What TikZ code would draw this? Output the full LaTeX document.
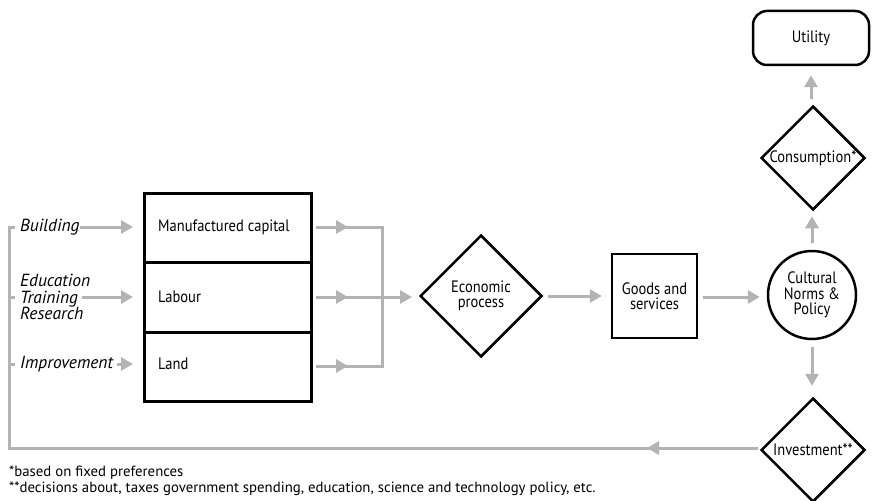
\documentclass[tikz,border=0pt]{standalone}
\usepackage{fontspec}
\setmainfont{PT Sans}[FakeStretch=0.88]
\newfontfamily\labfont{PT Sans}
\usetikzlibrary{shapes.geometric,arrows.meta}
\definecolor{agray}{HTML}{B3B3B3}
\tikzset{
  gline/.style={draw=agray,line width=3pt},
  garrow/.style={gline,-{Triangle[length=12pt,width=13pt]}},
  blk/.style={draw=black,line width=2.5pt},
  dia/.style={blk,diamond,aspect=1,inner sep=0pt,minimum size=#1},
  txt/.style={font=\fontsize{16.5}{17.5}\selectfont,align=center,inner sep=0pt},
  lab/.style={font=\labfont\itshape\fontsize{17.5}{16.5}\selectfont,align=left,inner sep=0pt,anchor=west},
  foot/.style={font=\labfont\fontsize{14.8}{16}\selectfont,inner sep=0pt,anchor=west},
}
\begin{document}
\begin{tikzpicture}[x=1pt,y=-1pt]
\useasboundingbox (0,0) rectangle (874,500);
% right column
\node[blk,rounded corners=14pt,minimum width=116pt,minimum height=54pt] (util) at (811,38) {};
\node[txt] at (util) {Utility};
\node[dia=104pt] (cons) at (813,158) {};
\node[txt] at (cons) {Consumption*};
\node[blk,circle,minimum size=88pt,inner sep=0pt] (cult) at (812,295) {};
\node[txt] at (cult) {Cultural\\[-2pt]Norms \&\\[-2pt]Policy};
\node[dia=104pt] (inv) at (813,450) {};
\node[txt] at (inv) {Investment**};
% middle
\node[dia=122pt] (econ) at (481,296) {};
\node[txt] at (econ) {Economic\\[-2pt]process};
\node[blk,minimum width=85pt,minimum height=84pt] (goods) at (654.5,296) {};
\node[txt] at (goods) {Goods and\\[-2pt]services};
% capital boxes
\node[blk,minimum width=167pt,minimum height=69pt,anchor=north west] (mc) at (143,192) {};
\node[blk,minimum width=167pt,minimum height=70pt,anchor=north west] (lab) at (143,261) {};
\node[blk,minimum width=167pt,minimum height=69pt,anchor=north west] (land) at (143,331) {};
\node[txt,anchor=west] at (158,227) {Manufactured capital};
\node[txt,anchor=west] at (158,297) {Labour};
\node[txt,anchor=west] at (158,364) {Land};
% left labels
\node[lab] (bld) at (20,227) {Building};
\node[lab] (edu) at (20,297) {Education\\Training\\Research};
\node[lab] (imp) at (20,364) {Improvement};
% coordinates
\coordinate (bA) at (80,227);  \coordinate (bB) at (133,227);
\coordinate (eA) at (82,297);  \coordinate (eB) at (133,297);
\coordinate (iA) at (117,364); \coordinate (iB) at (133,364);
\coordinate (o1) at (316,227); \coordinate (t1) at (348,227); \coordinate (j1) at (382,227);
\coordinate (o2) at (316,297); \coordinate (t2) at (348,297); \coordinate (j2) at (382,297);
\coordinate (o3) at (316,366); \coordinate (t3) at (348,366); \coordinate (j3) at (382,366);
\coordinate (eT) at (412,297);
\coordinate (fbT) at (647,448);
\coordinate (fbC) at (9,448);
\coordinate (fbU) at (9,227);
\coordinate (k2) at (9,297); \coordinate (k2e) at (15,297);
\coordinate (k3) at (9,364); \coordinate (k3e) at (15,364);
\coordinate (k1e) at (15,227);
\coordinate (fbS) at (758,448);
% feedback loop
\draw[gline] (fbS) -- (fbC) -- (fbU) -- (k1e);
\draw[garrow] (fbS) -- (fbT);
\draw[gline] (k2) -- (k2e);
\draw[gline] (k3) -- (k3e);
% inputs
\draw[garrow] (bA) -- (bB);
\draw[garrow] (eA) -- (eB);
\draw[garrow] (iA) -- (iB);
% outputs of boxes
\draw[gline] (o1) -- (j1) -- (j3) -- (o3);
\draw[gline] (o2) -- (j2);
\draw[garrow] (o1) -- (t1);
\draw[garrow] (o2) -- (t2);
\draw[garrow] (o3) -- (t3);
\draw[garrow] (j2) -- (eT);
% main flow
\draw[garrow,shorten <=5pt,shorten >=9pt] (econ.east) -- (goods.west);
\draw[garrow,shorten <=5pt,shorten >=7pt] (goods.east |- 0,297) -- (cult.west |- 0,297);
\draw[garrow,shorten <=7pt,shorten >=5pt] (cult.north) -- (cult.north |- cons.south);
\draw[garrow,shorten <=6pt,shorten >=9pt] (cons.north -| util.south) -- (util.south);
\draw[garrow,shorten <=7pt,shorten >=11pt] (cult.south) -- (cult.south |- inv.north);
% footnotes
\node[foot] (f1) at (9,473) {*based on fixed preferences};
\node[foot] (f2) at (9,489) {**decisions about, taxes government spending, education, science and technology policy, etc.};
\end{tikzpicture}
\end{document}
